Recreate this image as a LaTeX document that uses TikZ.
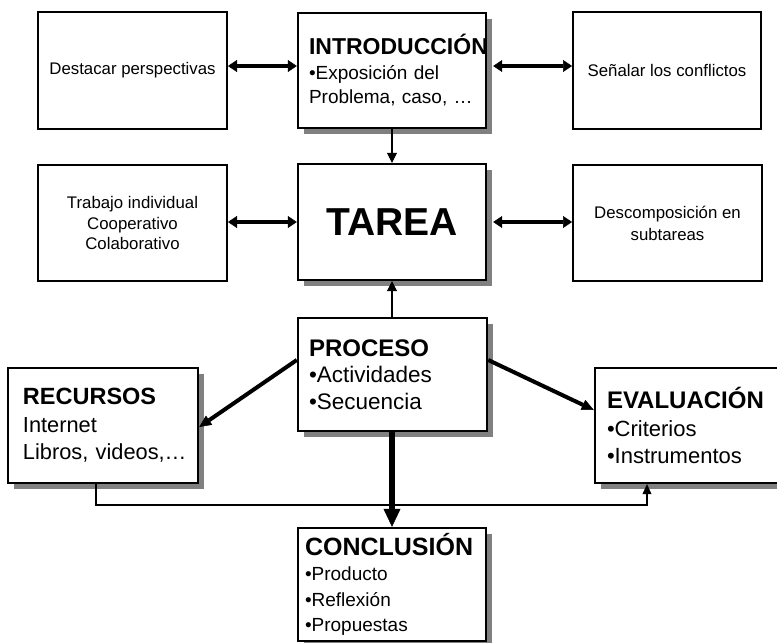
\documentclass[tikz,border=0pt]{standalone}
\usepackage{fontspec}
\setmainfont{Liberation Sans}
\usetikzlibrary{arrows.meta,shadows,calc}
\begin{document}
\begin{tikzpicture}[x=1pt,y=-1pt,
  mainbox/.style={draw, line width=2.4pt, fill=white, inner sep=0pt, align=left,
    drop shadow={shadow xshift=6pt, shadow yshift=-6pt, fill=black!50, opacity=1}},
  sidebox/.style={draw, line width=2pt, fill=white, inner sep=0pt, align=center,
    minimum width=189pt, minimum height=117pt, font=\fontsize{16.8}{20.5}\selectfont},
  dbl/.style={line width=4.5pt,
    {Triangle[length=9pt,width=12pt,line width=0.5pt]}-{Triangle[length=9pt,width=12pt,line width=0.5pt]}},
  vline/.style={line width=2.8pt, -{Triangle[length=10pt,width=10pt,line width=0.5pt]}},
  diag/.style={line width=4pt, -{Triangle[length=12pt,width=11pt,line width=0.5pt]}},
  bigv/.style={line width=6pt, -{Triangle[length=18pt,width=17pt,line width=0.5pt]}},
  bus/.style={line width=2.5pt, -{Triangle[length=10pt,width=9pt,line width=0.5pt]}}
]
\path[fill=white, use as bounding box] (0,0) rectangle (777,643);

% top row
\node[sidebox] (dest) at (132.5,70.5) {Destacar perspectivas};
\node[mainbox, minimum width=188pt, minimum height=115pt, text width=166pt,
  font=\fontsize{19}{24.5}\selectfont] (intro) at (392,70.5)
  {{\fontsize{23}{24.5}\selectfont\bfseries INTRODUCCIÓN}\\•Exposición~del\\Problema,~caso,~…};
\node[sidebox, minimum width=188pt] (senal) at (667,70.5) {Señalar los conflictos};

% second row
\node[sidebox, minimum height=116pt] (trab) at (132.5,223) {Trabajo individual\\Cooperativo\\Colaborativo};
\node[mainbox, minimum width=188pt, minimum height=116pt, align=center,
  font=\fontsize{39}{44}\selectfont\bfseries] (tarea) at (392,222) {TAREA};
\node[sidebox, minimum height=116pt, font=\fontsize{16.8}{22}\selectfont] (desc) at (667.5,223) {Descomposición en\\subtareas};

% third row
\node[mainbox, minimum width=189pt, minimum height=113pt, text width=167pt,
  font=\fontsize{22.5}{26.7}\selectfont] (proc) at (392.5,374.5)
  {{\fontsize{24}{26.7}\selectfont\bfseries PROCESO}\\•Actividades\\•Secuencia};
\node[mainbox, minimum width=190pt, minimum height=115pt, text width=160pt,
  font=\fontsize{21.8}{27.5}\selectfont] (recur) at (103,425.5)
  {{\fontsize{23.5}{27.5}\selectfont\bfseries RECURSOS}\\Internet\\Libros,~videos,…};
\node[mainbox, minimum width=190pt, minimum height=115pt, text width=166pt,
  font=\fontsize{22}{27.5}\selectfont] (eval) at (690,425.5)
  {{\fontsize{24}{27.5}\selectfont\bfseries EVALUACIÓN}\\•Criterios\\•Instrumentos};

% bottom
\node[mainbox, minimum width=188pt, minimum height=113pt, text width=174pt,
  font=\fontsize{19}{25.5}\selectfont] (concl) at (392,584.5)
  {{\fontsize{25}{25.5}\selectfont\bfseries CONCLUSIÓN}\\•Producto\\•Reflexión\\•Propuestas};

% connectors
\draw[dbl] ([yshift=4.5pt]dest.east) -- ([yshift=4.5pt]intro.west);
\draw[dbl] ([xshift=6pt,yshift=4.5pt]intro.east) -- ([yshift=4.5pt]senal.west);
\draw[dbl] (trab.east |- tarea.west) -- (tarea.west);
\draw[dbl] ([xshift=6pt]tarea.east) -- (desc.west |- tarea.east);
\draw[vline] (intro.south) -- (tarea.north);
\draw[vline] (proc.north -| tarea.south) -- (tarea.south);
\draw[diag] ([yshift=14.5pt]proc.west) -- ([yshift=-1.5pt]recur.east);
\draw[diag] ([yshift=14.5pt]proc.east) -- ([yshift=15.5pt]eval.west);
\draw[bus] ([xshift=-7pt]recur.south) -- ++(0,21) -| ([xshift=-43pt]eval.south);
\draw[bigv] (proc.south -| concl.north) -- (concl.north);
\end{tikzpicture}
\end{document}
